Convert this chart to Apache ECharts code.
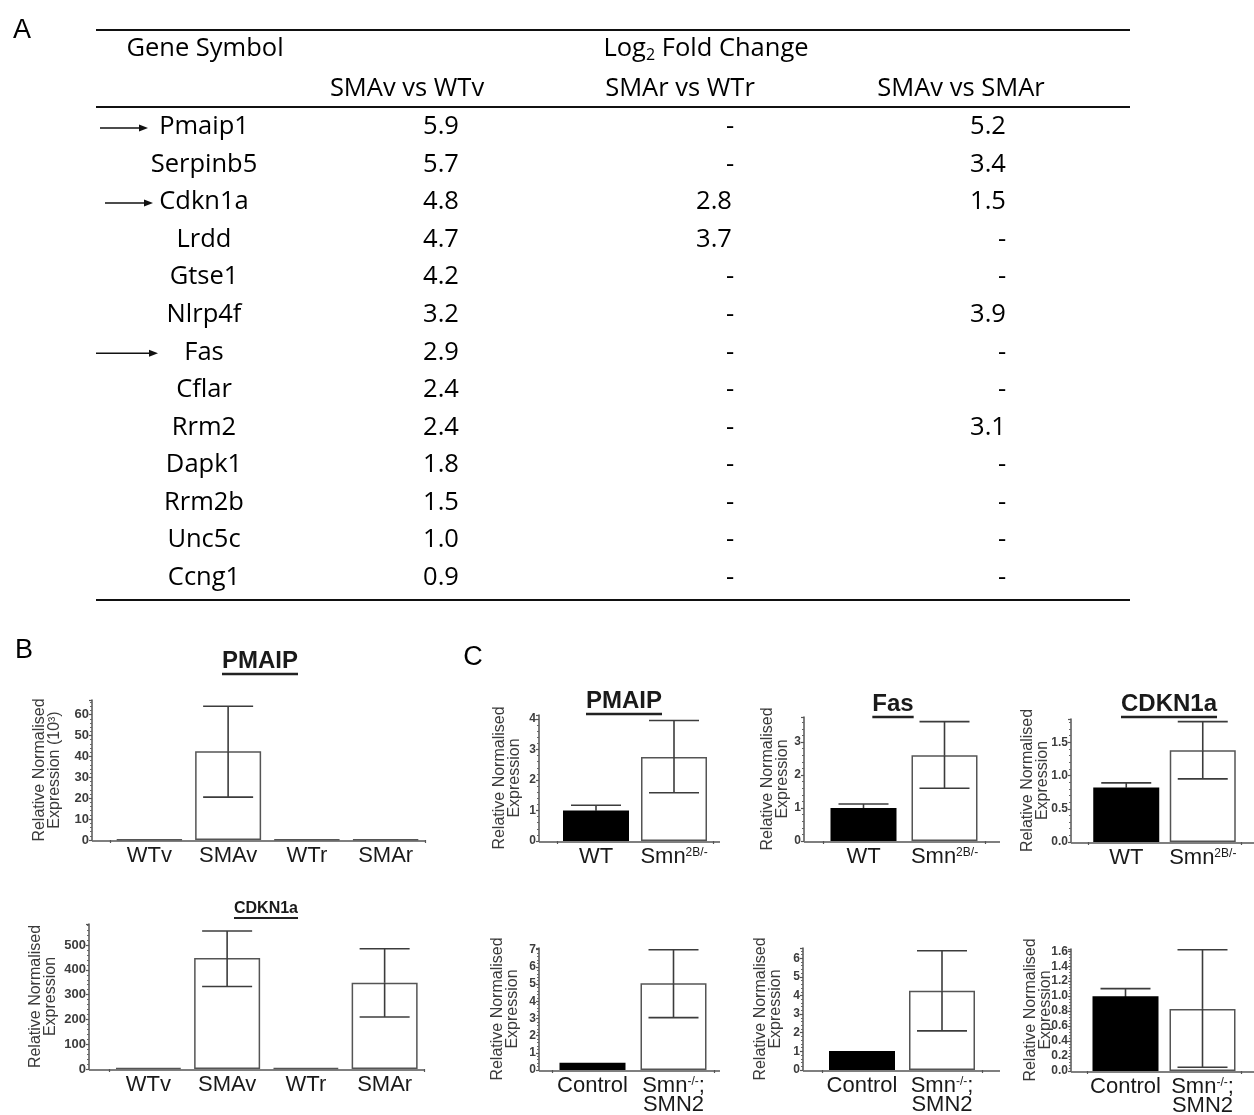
<!DOCTYPE html>
<html>
<head>
<meta charset="utf-8">
<script src="https://cdn.jsdelivr.net/npm/echarts@6/dist/echarts.min.js"></script>
<style>
  html, body { margin: 0; padding: 0; background: #fff; }
  #main { width: 1254px; height: 1115px; }
</style>
</head>
<body>
<div id="main"></div>
<script>
// ---- table A data ----
var genes = ['Pmaip1', 'Serpinb5', 'Cdkn1a', 'Lrdd', 'Gtse1', 'Nlrp4f', 'Fas', 'Cflar', 'Rrm2', 'Dapk1', 'Rrm2b', 'Unc5c', 'Ccng1'];
var smaVvsWTv = ['5.9', '5.7', '4.8', '4.7', '4.2', '3.2', '2.9', '2.4', '2.4', '1.8', '1.5', '1.0', '0.9'];
var smaRvsWTr = [null, null, '2.8', '3.7', null, null, null, null, null, null, null, null, null];
var smaVvsSMAr = ['5.2', '3.4', '1.5', null, null, '3.9', null, null, '3.1', null, null, null, null];
var arrowGenes = ['Pmaip1', 'Cdkn1a', 'Fas'];

// ---- panel B data ----
var groupsB = ['WTv', 'SMAv', 'WTr', 'SMAr'];
var pmaipB = [0.3, 42.5, 0.3, 0.3];
var pmaipBLow = [null, 20.5, null, null];
var pmaipBHigh = [null, 64, null, null];
var cdknB = [5, 448, 5, 348];
var cdknBLow = [null, 333, null, 210];
var cdknBHigh = [null, 557, null, 485];

// ---- panel C data ----
var groupsC1 = ['WT', 'Smn2B/-'];
var groupsC2 = ['Control', 'Smn-/-;SMN2'];
var pmaipC1 = [1.0, 2.75];
var pmaipC1Low = [0.85, 1.58];
var pmaipC1High = [1.17, 3.95];
var fasC1 = [1.0, 2.6];
var fasC1Low = [0.88, 1.6];
var fasC1High = [1.12, 3.62];
var cdknC1 = [0.82, 1.38];
var cdknC1Low = [0.75, 0.95];
var cdknC1High = [0.89, 1.81];
var pmaipC2 = [0.42, 5.05];
var pmaipC2Low = [null, 3.05];
var pmaipC2High = [null, 7.0];
var fasC2 = [1.02, 4.25];
var fasC2Low = [null, 2.1];
var fasC2High = [null, 6.4];
var cdknC2 = [1.0, 0.83];
var cdknC2Low = [0.9, 0.05];
var cdknC2High = [1.1, 1.62];

var FONT = '"Liberation Sans", Arial, sans-serif';
var TFONT = '"Open Sans", "Noto Sans", sans-serif';
var NAME1 = 'Relative Normalised\nExpression';

// layout of the 8 small charts
var panels = [
    {title: 'PMAIP', tSize: 24, tx: 260, ty: 661, cats: groupsB, vals: pmaipB, lo: pmaipBLow, hi: pmaipBHigh,
     yx: 92, left: 110, right: 425, top: 700, zero: 840, lineEnd: 425, max: 67, interval: 10, dec: 0,
     name: 'Relative Normalised\nExpression (10³)', gap: 30, dark: false, tickAt: 2, lblSize: 13},
    {title: 'CDKN1a', tSize: 16, tx: 266, ty: 909, cats: groupsB, vals: cdknB, lo: cdknBLow, hi: cdknBHigh,
     yx: 89, left: 109, right: 424, top: 924, zero: 1069, lineEnd: 425, max: 585, interval: 100, dec: 0,
     name: NAME1, gap: 31, dark: false, tickAt: 2, lblSize: 13},
    {title: 'PMAIP', tSize: 24, tx: 624, ty: 701, cats: groupsC1, vals: pmaipC1, lo: pmaipC1Low, hi: pmaipC1High,
     yx: 539, left: 557, right: 713, top: 715, zero: 841, lineEnd: 720, max: 4.13, interval: 1, dec: 0,
     name: NAME1, gap: 17, dark: true, tickAt: 1, lblSize: 12},
    {title: 'Fas', tSize: 24, tx: 893, ty: 704, cats: groupsC1, vals: fasC1, lo: fasC1Low, hi: fasC1High,
     yx: 804, left: 823, right: 985, top: 717, zero: 841, lineEnd: 1000, max: 3.76, interval: 1, dec: 0,
     name: NAME1, gap: 14, dark: true, tickAt: 1, lblSize: 12},
    {title: 'CDKN1a', tSize: 24, tx: 1169, ty: 704, cats: groupsC1, vals: cdknC1, lo: cdknC1Low, hi: cdknC1High,
     yx: 1071, left: 1088, right: 1241, top: 719, zero: 842, lineEnd: 1254, max: 1.85, interval: 0.5, dec: 1,
     name: NAME1, gap: 21, dark: true, tickAt: 1, lblSize: 12},
    {title: null, cats: groupsC2, vals: pmaipC2, lo: pmaipC2Low, hi: pmaipC2High,
     yx: 539, left: 552, right: 714, top: 948, zero: 1070, lineEnd: 720, max: 7.1, interval: 1, dec: 0,
     name: NAME1, gap: 19, dark: true, tickAt: 1, lblSize: 12},
    {title: null, cats: groupsC2, vals: fasC2, lo: fasC2Low, hi: fasC2High,
     yx: 803, left: 822, right: 982, top: 948, zero: 1070, lineEnd: 1000, max: 6.55, interval: 1, dec: 0,
     name: NAME1, gap: 20, dark: true, tickAt: 1, lblSize: 12},
    {title: null, cats: groupsC2, vals: cdknC2, lo: cdknC2Low, hi: cdknC2High,
     yx: 1071, left: 1087, right: 1241, top: 949, zero: 1071, lineEnd: 1254, max: 1.63, interval: 0.2, dec: 1,
     name: NAME1, gap: 18, dark: true, tickAt: 1, lblSize: 12}
];

var measureCtx = document.createElement('canvas').getContext('2d');
function textWidth(t, font) {
    measureCtx.font = font;
    return measureCtx.measureText(t).width;
}

function catLabel(v) {
    if (v === 'Smn2B/-') return 'Smn{sup|2B/-}';
    if (v === 'Smn-/-;SMN2') return 'Smn{sup|-/-};\nSMN2';
    return v;
}

function makeErr(dark) {
    return function (params, api) {
        var i = api.value(0);
        var a = api.coord([i, api.value(1)]);
        var b = api.coord([i, api.value(2)]);
        var w = 25;
        var st = {stroke: '#3c3c3c', lineWidth: 1.6};
        // lower half of an error bar on a black bar is hidden in the original
        var st2 = {stroke: (dark && i === 0) ? '#000' : '#3c3c3c', lineWidth: 1.6};
        var top = api.coord([i, api.value(3)]);
        return {
            type: 'group',
            children: [
                {type: 'line', shape: {x1: a[0], y1: a[1], x2: top[0], y2: top[1]}, style: st2},
                {type: 'line', shape: {x1: top[0], y1: top[1], x2: b[0], y2: b[1]}, style: st},
                {type: 'line', shape: {x1: a[0] - w, y1: a[1], x2: a[0] + w, y2: a[1]}, style: st2},
                {type: 'line', shape: {x1: b[0] - w, y1: b[1], x2: b[0] + w, y2: b[1]}, style: st}
            ]
        };
    };
}

var grids = [], xAxes = [], yAxes = [], series = [], graphics = [];

panels.forEach(function (p, k) {
    grids.push({left: p.left, top: p.top, width: p.right - p.left, height: p.zero - p.top,
                outerBoundsMode: 'none', containLabel: false});
    xAxes.push({
        gridIndex: k, type: 'category', data: p.cats,
        axisLine: {show: false},
        axisTick: {show: true, length: 3, lineStyle: {color: '#555', width: 1.2},
                   interval: function (idx) { return idx === p.tickAt; }},
        axisLabel: {
            interval: 0, margin: 6, fontSize: 22, color: '#1a1a1a', fontFamily: FONT, lineHeight: 19,
            formatter: catLabel,
            rich: {sup: {fontSize: 12, fontFamily: FONT, color: '#1a1a1a', verticalAlign: 'top', lineHeight: 19, padding: [0, 0, 7, 0]}}
        }
    });
    yAxes.push({
        gridIndex: k, type: 'value', min: 0, max: p.max, interval: p.interval,
        offset: p.left - p.yx,
        axisLine: {show: true, lineStyle: {color: '#555', width: 1.5}},
        axisTick: {show: true, length: 3, lineStyle: {color: '#555', width: 1.2}},
        minorTick: {show: true, splitNumber: 5, length: 2, lineStyle: {color: '#666', width: 1}},
        splitLine: {show: false},
        axisLabel: {
            showMaxLabel: false, margin: 3, fontSize: p.lblSize, fontWeight: 'bold', color: '#3c3c3c', fontFamily: FONT,
            formatter: function (v) { return v.toFixed(p.dec); }
        },
        name: p.name, nameLocation: 'middle', nameRotate: 90, nameGap: p.gap, nameMoveOverlap: false,
        nameTextStyle: {fontSize: 16, lineHeight: 15, color: '#3a3a3a', fontFamily: FONT}
    });
    series.push({
        type: 'bar', xAxisIndex: k, yAxisIndex: k, barWidth: 66,
        data: p.vals.map(function (v, i) {
            var dark = p.dark && i === 0;
            return {value: v, itemStyle: {color: dark ? '#000' : '#fff', borderColor: dark ? '#000' : '#555', borderWidth: 1.5}};
        })
    });
    var errData = [];
    p.vals.forEach(function (v, i) {
        if (p.lo[i] != null && p.hi[i] != null) errData.push([i, p.lo[i], p.hi[i], v]);
    });
    series.push({
        type: 'custom', xAxisIndex: k, yAxisIndex: k, renderItem: makeErr(p.dark),
        encode: {x: 0, y: [1, 2]}, data: errData, z: 5, silent: true
    });
    // baseline running from the y axis to the end of the x axis
    graphics.push({type: 'line', shape: {x1: p.yx, y1: p.zero + 1, x2: p.lineEnd, y2: p.zero + 1},
                   style: {stroke: '#555', lineWidth: 1.5}, silent: true});
    if (p.title) {
        var tf = 'bold ' + p.tSize + 'px ' + FONT;
        var tw = textWidth(p.title, tf);
        graphics.push({type: 'text', x: p.tx, y: p.ty,
                       style: {text: p.title, font: tf, fill: '#1a1a1a', textAlign: 'center', textVerticalAlign: 'middle'}});
        var uy = p.ty + Math.round(p.tSize * 0.56);
        graphics.push({type: 'line', shape: {x1: p.tx - tw / 2, y1: uy, x2: p.tx + tw / 2, y2: uy},
                       style: {stroke: '#222', lineWidth: p.tSize > 18 ? 2.5 : 2}});
    }
});

// ---- panel letters ----
[['A', 22, 31], ['B', 24, 651], ['C', 473, 658]].forEach(function (l) {
    graphics.push({type: 'text', x: l[1], y: l[2],
                   style: {text: l[0], font: '27px ' + FONT, fill: '#000', textAlign: 'center', textVerticalAlign: 'middle'}});
});

// ---- table A ----
var tFont = '25.5px ' + TFONT;
var colX = {gene: 204, c1: 441, c2: 714, c3: 988};
var dashX = {c2: 730, c3: 1002};
function tText(t, x, y) {
    graphics.push({type: 'text', x: x, y: y,
                   style: {text: t, font: tFont, fill: '#000', textAlign: 'center', textVerticalAlign: 'middle'}});
}
[30, 107, 600].forEach(function (y) {
    graphics.push({type: 'line', shape: {x1: 96, y1: y, x2: 1130, y2: y}, style: {stroke: '#111', lineWidth: 2}});
});
tText('Gene Symbol', 205, 49);
graphics.push({type: 'text', x: 706, y: 49,
               style: {text: '{a|Log}{s|2}{a| Fold Change}', textAlign: 'center', textVerticalAlign: 'middle',
                       rich: {a: {font: tFont, fill: '#000'},
                              s: {font: '16px ' + TFONT, fill: '#000', padding: [13, 0, 0, 0]}}}});
tText('SMAv vs WTv', 407, 89);
tText('SMAr vs WTr', 680, 89);
tText('SMAv vs SMAr', 961, 89);

var arrowSpan = {Pmaip1: [100, 148], Cdkn1a: [105, 153], Fas: [96, 158]};
genes.forEach(function (g, i) {
    var y = 127 + i * 37.55;
    tText(g, colX.gene, y);
    tText(smaVvsWTv[i], colX.c1, y);
    tText(smaRvsWTr[i] == null ? '-' : smaRvsWTr[i], smaRvsWTr[i] == null ? dashX.c2 : colX.c2, y);
    tText(smaVvsSMAr[i] == null ? '-' : smaVvsSMAr[i], smaVvsSMAr[i] == null ? dashX.c3 : colX.c3, y);
    if (arrowGenes.indexOf(g) >= 0) {
        var s = arrowSpan[g];
        var ay = y + 1;
        graphics.push({type: 'line', shape: {x1: s[0], y1: ay, x2: s[1] - 6, y2: ay}, style: {stroke: '#111', lineWidth: 1.5}});
        graphics.push({type: 'polygon', shape: {points: [[s[1], ay], [s[1] - 9, ay - 3.5], [s[1] - 9, ay + 3.5]]}, style: {fill: '#111'}});
    }
});

var chart = echarts.init(document.getElementById('main'));
chart.setOption({
    animation: false,
    backgroundColor: '#fff',
    grid: grids,
    xAxis: xAxes,
    yAxis: yAxes,
    series: series,
    graphic: {elements: graphics}
});
</script>
</body>
</html>
